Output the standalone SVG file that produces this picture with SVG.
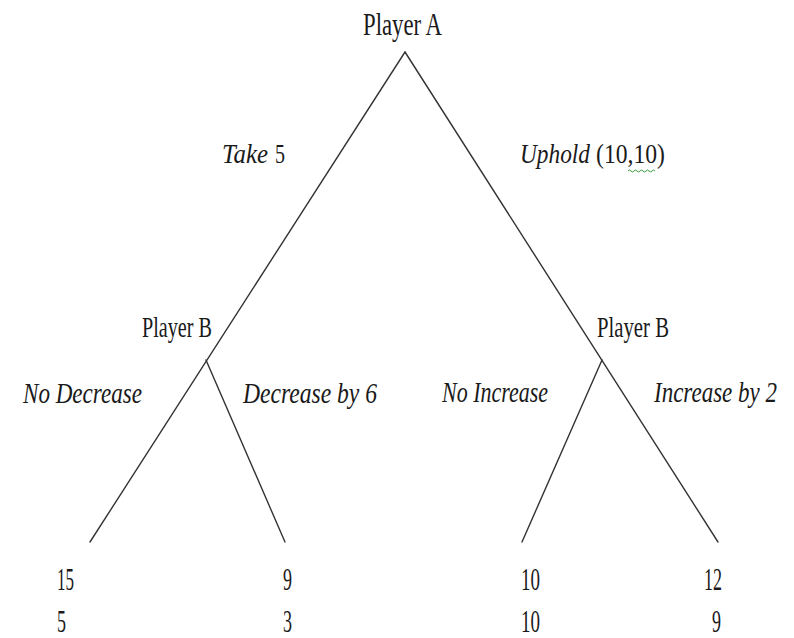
<svg xmlns="http://www.w3.org/2000/svg" width="794" height="638" viewBox="0 0 794 638">
<style>
.t{font-family:"Liberation Serif","Times New Roman",serif;fill:#1a1a1a;}
.i{font-style:italic;}
.e{stroke:#333;stroke-width:1.4;fill:none;stroke-linecap:round;}
</style>
<rect width="794" height="638" fill="#fff"/>
<g id="connectors">
<line class="e" x1="405" y1="52" x2="90" y2="542"/>
<line class="e" x1="405" y1="52" x2="718" y2="542"/>
<line class="e" x1="206" y1="360" x2="285" y2="542"/>
<line class="e" x1="602" y1="360" x2="522" y2="542"/>
</g>
<g id="nodeA"><text class="t" x="363" y="35" font-size="32" textLength="79" lengthAdjust="spacingAndGlyphs">Player A</text></g>
<g id="nodeB1"><text class="t" x="142" y="337" font-size="29" textLength="70" lengthAdjust="spacingAndGlyphs">Player B</text></g>
<g id="nodeB2"><text class="t" x="597" y="337" font-size="29" textLength="72" lengthAdjust="spacingAndGlyphs">Player B</text></g>
<g id="labels">
<text class="t i" x="222" y="163" font-size="27" textLength="46" lengthAdjust="spacingAndGlyphs">Take</text>
<text class="t" x="275" y="163" font-size="27" textLength="10" lengthAdjust="spacingAndGlyphs">5</text>
<text class="t i" x="520" y="163" font-size="27" textLength="70" lengthAdjust="spacingAndGlyphs">Uphold</text>
<text class="t" x="596" y="163" font-size="27" textLength="69" lengthAdjust="spacingAndGlyphs">(10,10)</text>
<path d="M628 171 q1.5 -2 3 0 t3 0 t3 0 t3 0 t3 0 t3 0 t3 0 t3 0 t3 0" stroke="#3a9a3a" stroke-width="1" fill="none"/>
<text class="t i" x="23" y="403" font-size="29" textLength="119" lengthAdjust="spacingAndGlyphs">No Decrease</text>
<text class="t i" x="243" y="403" font-size="29" textLength="134" lengthAdjust="spacingAndGlyphs">Decrease by 6</text>
<text class="t i" x="442" y="402" font-size="29" textLength="106" lengthAdjust="spacingAndGlyphs">No Increase</text>
<text class="t i" x="654" y="402" font-size="29" textLength="123" lengthAdjust="spacingAndGlyphs">Increase by 2</text>
</g>
<g id="payoff1"><text class="t" x="57" y="590" font-size="32" textLength="17" lengthAdjust="spacingAndGlyphs">15</text><text class="t" x="57" y="632" font-size="32" textLength="9" lengthAdjust="spacingAndGlyphs">5</text></g>
<g id="payoff2"><text class="t" x="283" y="590" font-size="32" textLength="9" lengthAdjust="spacingAndGlyphs">9</text><text class="t" x="283" y="632" font-size="32" textLength="9" lengthAdjust="spacingAndGlyphs">3</text></g>
<g id="payoff3"><text class="t" x="521" y="590" font-size="32" textLength="19" lengthAdjust="spacingAndGlyphs">10</text><text class="t" x="521" y="632" font-size="32" textLength="19" lengthAdjust="spacingAndGlyphs">10</text></g>
<g id="payoff4"><text class="t" x="704" y="590" font-size="32" textLength="18" lengthAdjust="spacingAndGlyphs">12</text><text class="t" x="712" y="632" font-size="32" textLength="9" lengthAdjust="spacingAndGlyphs">9</text></g>
</svg>
